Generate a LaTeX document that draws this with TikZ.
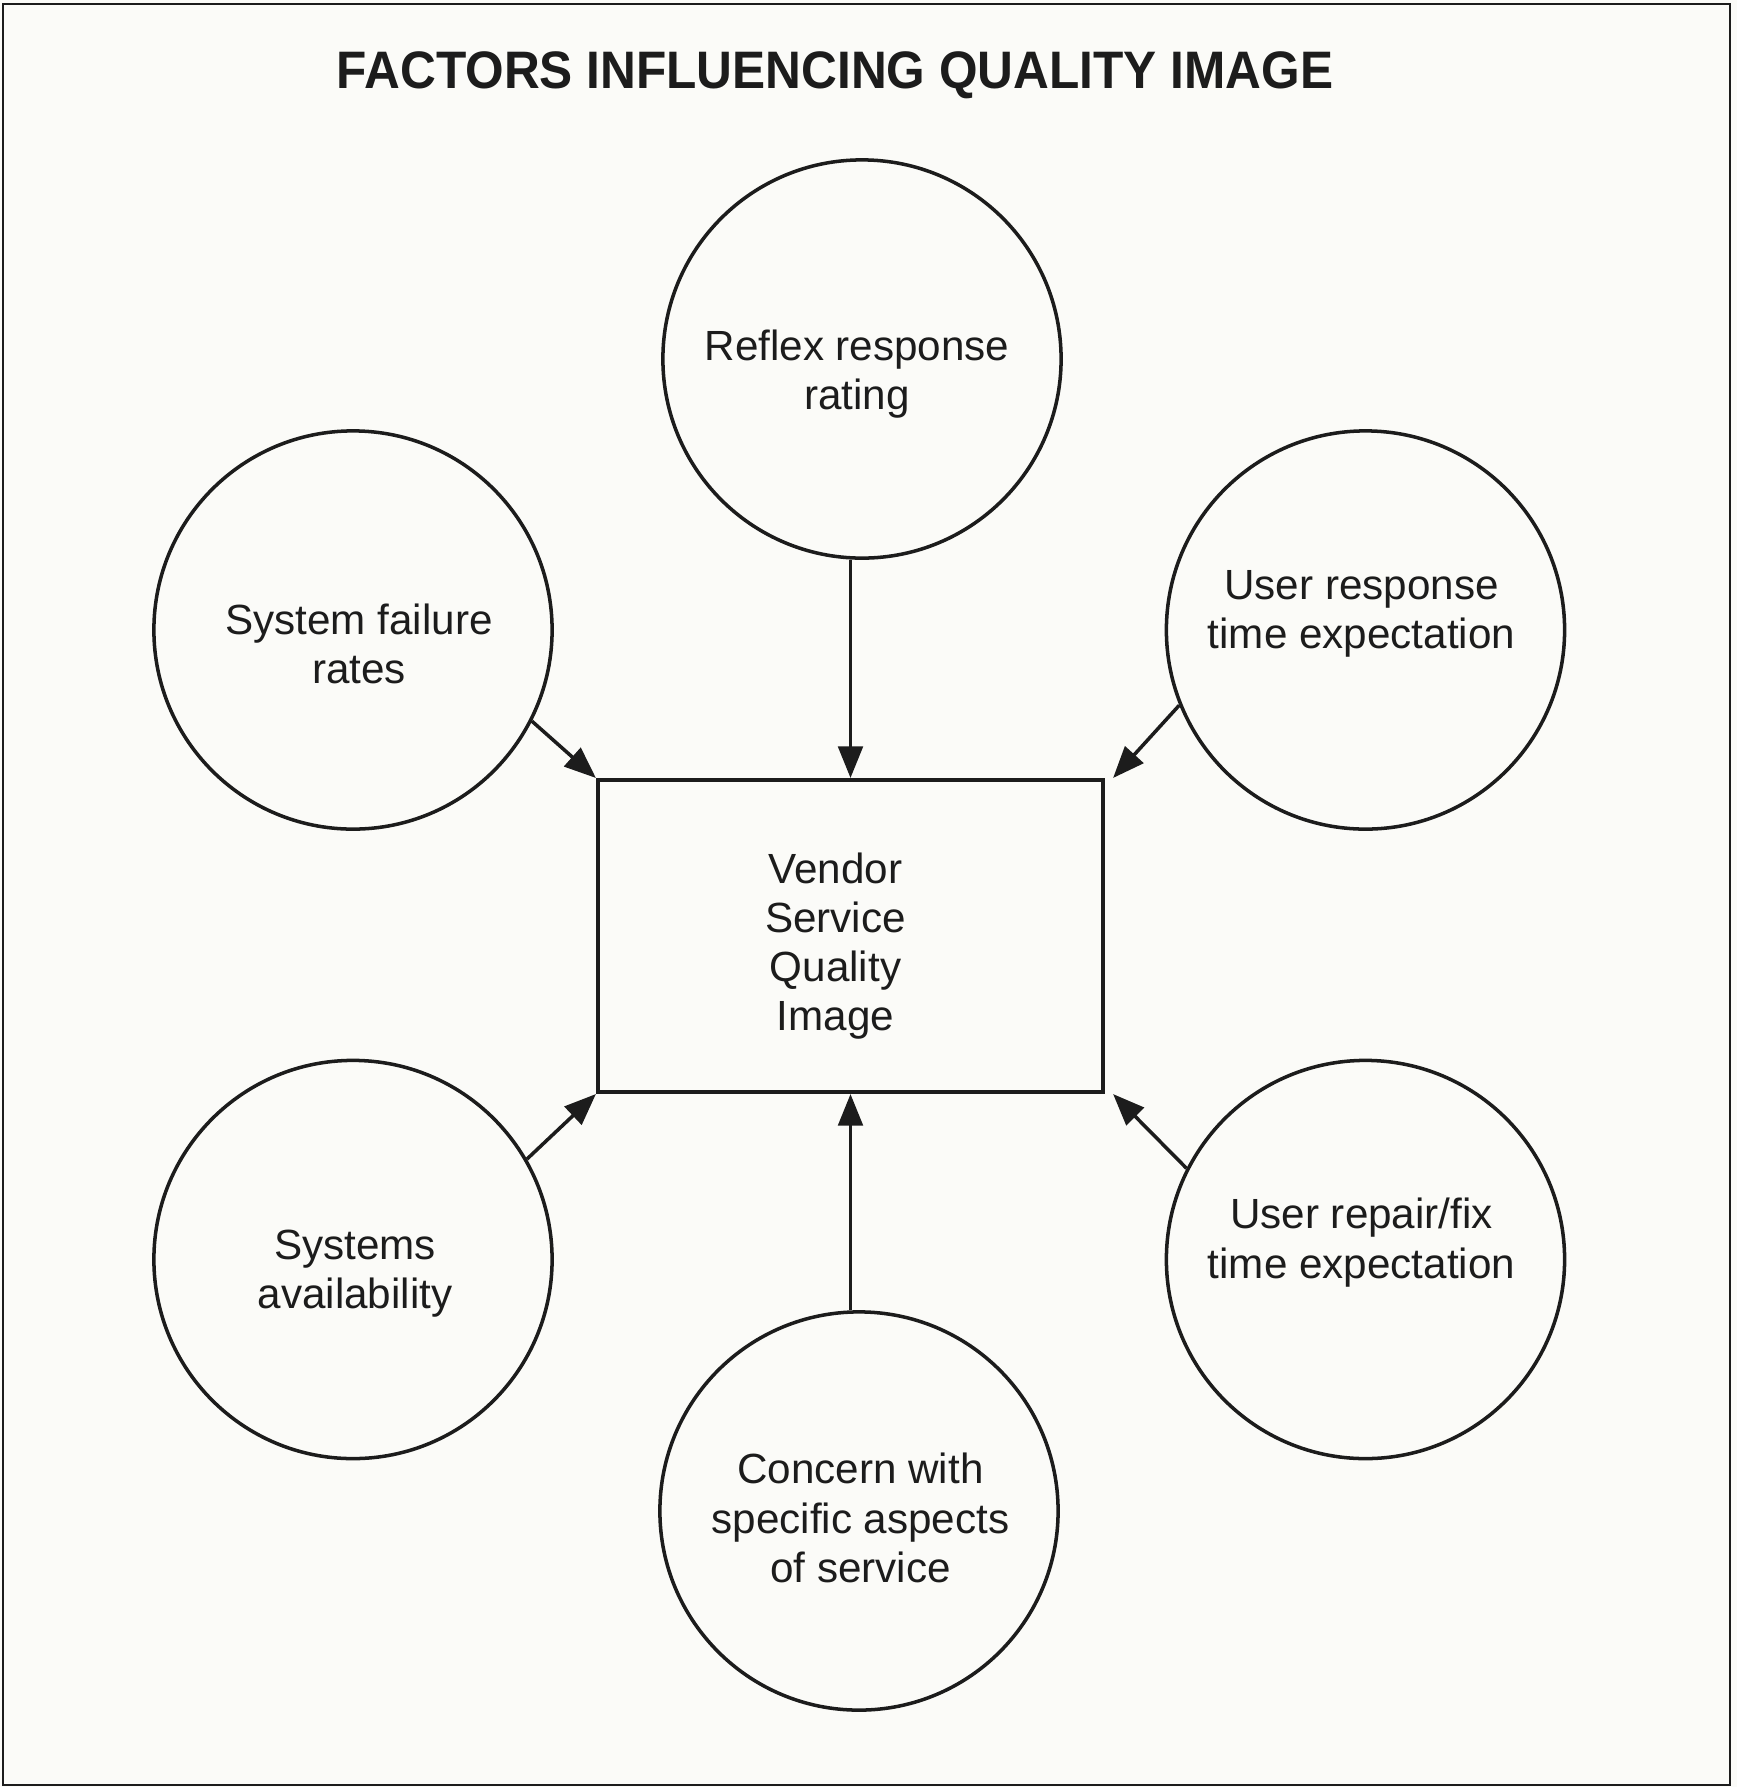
\documentclass[tikz,border=0pt]{standalone}
\usepackage{fontspec}
\setmainfont{Liberation Sans}
\newfontfamily\titlefont[FakeStretch=0.94]{Liberation Sans}
\usetikzlibrary{arrows.meta}
\definecolor{paper}{RGB}{251,251,248}
\definecolor{ink}{RGB}{28,28,28}
\begin{document}
\begin{tikzpicture}[x=0.01cm,y=-0.01cm,
  factor/.style={circle,draw=ink,line width=1pt,minimum size=3.98cm,inner sep=0pt},
  lbl/.style={align=center,font=\fontsize{12}{14}\selectfont,text=ink},
  arr/.style={draw=ink,line width=1pt,-{Triangle[length=9pt,width=7pt]}}]
\path[fill=paper] (0,0) rectangle (1737,1787);
\useasboundingbox (0,0) rectangle (1737,1787);
\draw[ink,line width=0.6pt] (3,4) rectangle (1730,1785);

\node[anchor=base,text=ink,font=\titlefont\bfseries\fontsize{15}{18}\selectfont] (title) at (835,88) {FACTORS INFLUENCING QUALITY IMAGE};

\node[factor,label={[lbl,name=ttop,xshift=-0.05cm,yshift=-0.15cm]center:{Reflex response\\rating}}] (top) at (862,359) {};
\node[factor,label={[lbl,name=tlu,xshift=0.06cm,yshift=-0.14cm]center:{System failure\\rates}}] (lu) at (353,630) {};
\node[factor,label={[lbl,name=tru,xshift=-0.04cm,yshift=0.165cm]center:{User response\\time expectation}}] (ru) at (1365.5,630) {};
\node[factor,label={[lbl,name=tll,xshift=0.02cm,yshift=-0.14cm]center:{Systems\\availability}}] (ll) at (353,1259.5) {};
\node[factor,label={[lbl,name=trl,xshift=-0.04cm,yshift=0.17cm]center:{User repair/fix\\time expectation}}] (rl) at (1365.5,1259.5) {};
\node[factor,label={[lbl,name=tbot,xshift=0.015cm,yshift=-0.07cm]center:{Concern with\\specific aspects\\of service}}] (bot) at (859,1511) {};

\node[draw=ink,line width=1.1pt,minimum width=5.05cm,minimum height=3.12cm,inner sep=0pt,
  label={[lbl,name=tbox,xshift=-0.15cm,yshift=-0.1cm]center:{Vendor\\Service\\Quality\\Image}}] (box) at (850.5,936) {};

\draw[arr] (box.north |- top.south) -- (box.north);
\draw[arr] (lu.-27) -- (box.north west);
\draw[arr] (ru.202) -- ([xshift=0.08cm]box.north east);
\draw[arr] (ll.30) -- (box.south west);
\draw[arr] (rl.153) -- ([xshift=0.08cm]box.south east);
\draw[arr] (box.south |- bot.north) -- (box.south);
\end{tikzpicture}
\end{document}
